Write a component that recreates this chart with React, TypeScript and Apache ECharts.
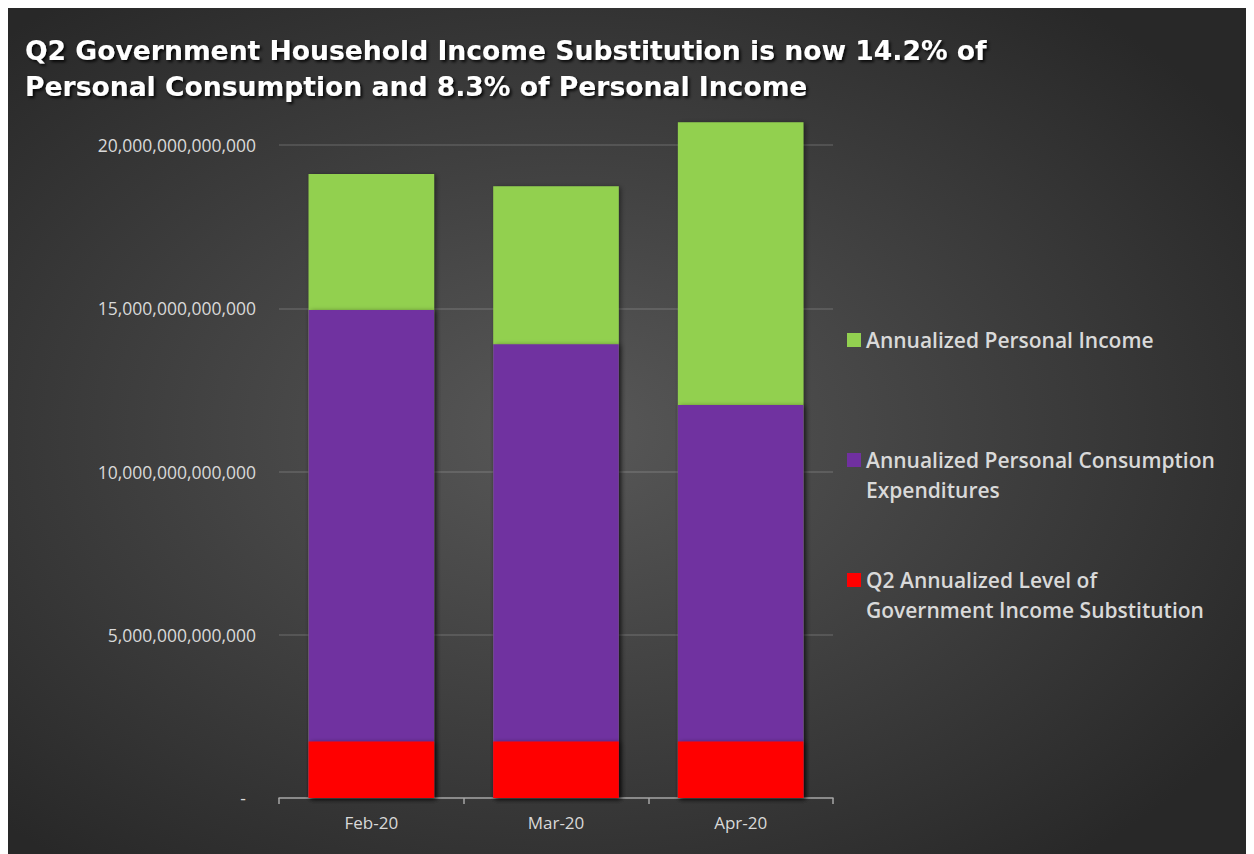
import React, { useEffect, useRef } from "react";
import * as echarts from "echarts";

const categories = ["Feb-20", "Mar-20", "Apr-20"];
const personalIncome = [19.11e12, 18.74e12, 20.7e12];
const consumption = [14.95e12, 13.9e12, 12.04e12];
const govSubstitution = [1.73e12, 1.73e12, 1.73e12];
const seriesNames = [
  "Annualized Personal Income",
  "Annualized Personal Consumption Expenditures",
  "Q2 Annualized Level of Government Income Substitution",
];
const legendLabels = [
  "Annualized Personal Income",
  "\nAnnualized Personal Consumption\nExpenditures",
  "\nQ2 Annualized Level of\nGovernment Income Substitution",
];
const titleText =
  "Q2 Government Household Income Substitution is now 14.2% of\nPersonal Consumption and 8.3% of Personal Income";

const FONT = "'Open Sans', 'Noto Sans', sans-serif";
const LABEL = "#d9d9d9";

export default function App() {
  const ref = useRef<HTMLDivElement>(null);
  useEffect(() => {
    if (!ref.current) return;
    const chart = echarts.init(ref.current, undefined, { renderer: "svg" });
    const barShadow = {
      shadowBlur: 5,
      shadowOffsetX: 2,
      shadowOffsetY: 1,
      shadowColor: "rgba(0,0,0,0.45)",
    };
    const legendCommon = (i: number, top: number) => ({
      show: true,
      data: [seriesNames[i]],
      left: 839,
      top,
      orient: "vertical",
      icon: "rect",
      itemWidth: 14,
      itemHeight: 14,
      itemGap: 0,
      padding: 0,
      selectedMode: false,
      formatter: () => legendLabels[i],
      textStyle: {
        color: LABEL,
        fontFamily: FONT,
        fontWeight: 600,
        fontSize: 21,
        lineHeight: 30,
      },
    });
    chart.setOption({
      animation: false,
      backgroundColor: {
        type: "radial",
        x: 0.45,
        y: 0.5,
        r: 0.65,
        colorStops: [
          { offset: 0, color: "#585858" },
          { offset: 1, color: "#282828" },
        ],
      },
      title: {
        text: titleText,
        left: 17,
        top: 24,
        padding: 0,
        textStyle: {
          color: "#ffffff",
          fontFamily: "'DejaVu Sans', sans-serif",
          fontWeight: "bold",
          fontSize: 26.6,
          lineHeight: 36,
          textShadowColor: "rgba(0,0,0,0.85)",
          textShadowBlur: 3,
          textShadowOffsetX: 2,
          textShadowOffsetY: 2,
        },
      },
      legend: [
        legendCommon(0, 317),
        legendCommon(1, 407),
        legendCommon(2, 527),
      ],
      grid: { left: 271, right: 421, top: 104.35, bottom: 56, containLabel: false },
      xAxis: {
        type: "category",
        data: categories,
        axisLine: { lineStyle: { color: "#a6a6a6", width: 1.5 } },
        axisTick: { show: true, length: 6, lineStyle: { color: "#a6a6a6", width: 1.5 } },
        axisLabel: { color: LABEL, fontFamily: FONT, fontSize: 17, margin: 16 },
      },
      yAxis: {
        type: "value",
        min: 0,
        max: 21e12,
        interval: 5e12,
        axisLine: { show: false },
        axisTick: { show: false },
        splitLine: {
          show: true,
          showMaxLine: false,
          showMinLine: false,
          lineStyle: { color: "rgba(255,255,255,0.16)", width: 1.5 },
        },
        axisLabel: {
          showMaxLabel: false,
          color: LABEL,
          fontFamily: FONT,
          fontSize: 17.5,
          margin: 23,
          formatter: (v: number) =>
            v === 0 ? "{z|-}" : v % 5e12 === 0 ? v.toLocaleString("en-US") : "",
          rich: { z: { color: LABEL, fontFamily: FONT, fontSize: 17.5, padding: [0, 10, 0, 0] } },
        },
      },
      series: [
        {
          name: seriesNames[0],
          type: "bar",
          data: personalIncome,
          barWidth: "68%",
          barGap: "-100%",
          itemStyle: { color: "#92d050", ...barShadow },
        },
        {
          name: seriesNames[1],
          type: "bar",
          data: consumption,
          barWidth: "68%",
          barGap: "-100%",
          itemStyle: { color: "#7030a0", ...barShadow },
        },
        {
          name: seriesNames[2],
          type: "bar",
          data: govSubstitution,
          barWidth: "68%",
          barGap: "-100%",
          itemStyle: { color: "#ff0000", ...barShadow },
        },
      ],
    });
    return () => chart.dispose();
  }, []);
  return <div ref={ref} style={{ width: 1246, height: 846 }} />;
}
